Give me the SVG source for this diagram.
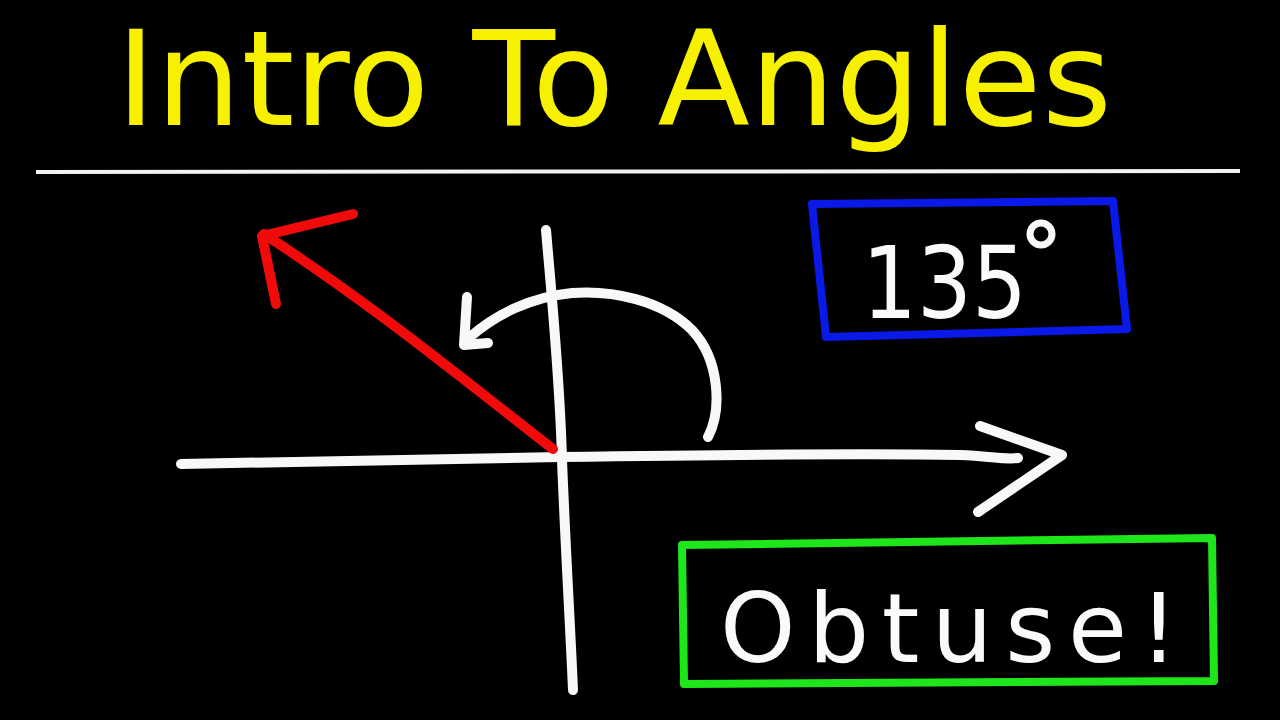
<svg xmlns="http://www.w3.org/2000/svg" width="1280" height="720" viewBox="0 0 1280 720">
<style>
.bg{fill:#000}
.title{fill:#f7f000;font-family:"Comic Sans MS","DejaVu Sans",sans-serif;font-size:132px}
.hand{fill:#fafafa;font-family:"Comic Sans MS","DejaVu Sans",sans-serif}
.w{fill:none;stroke:#f8f8f8;stroke-width:10;stroke-linecap:round;stroke-linejoin:round}
.r{fill:none;stroke:#f00a0a;stroke-width:10;stroke-linecap:round;stroke-linejoin:round}
.blue{fill:none;stroke:#0a18e8;stroke-width:8;stroke-linejoin:round;stroke-linecap:round}
.green{fill:none;stroke:#1ee61a;stroke-width:8;stroke-linejoin:round;stroke-linecap:round}
</style>
<rect class="bg" x="0" y="0" width="1280" height="720"/>
<g id="title">
<text class="title" x="116" y="125" textLength="996" lengthAdjust="spacingAndGlyphs">Intro To Angles</text>
<line x1="36" y1="172" x2="1240" y2="171" stroke="#f2f2f2" stroke-width="4"/>
</g>
<g id="axes">
<path class="w" d="M181,464 C300,462 420,460 560,457 C700,455 850,453 960,455 C990,456 1005,460 1018,458"/>
<path class="w" d="M980,426 L1062,455 L978,512"/>
<path class="w" d="M546,230 C552,300 560,380 562,460 C566,560 570,620 573,690"/>
</g>
<g id="ray">
<path class="r" d="M553,449 C470,385 380,310 264,234"/>
<path class="r" d="M353,214 L262,236 L276,304"/>
</g>
<g id="arc">
<path class="w" d="M708,437 C722,410 720,360 692,330 C662,300 612,290 572,293 C530,297 495,315 470,337"/>
<path class="w" d="M467,297 L464,345 L488,343"/>
</g>
<g id="angle-box">
<path class="blue" d="M812,204 L1113,201 L1127,329 L826,337 Z"/>
<text class="hand" x="862" y="318" font-size="100" textLength="165" lengthAdjust="spacingAndGlyphs">135</text>
<circle cx="1041" cy="234" r="11" fill="none" stroke="#fafafa" stroke-width="7"/>
</g>
<g id="type-box">
<path class="green" d="M682,545 L1212,538 L1214,681 L684,684 Z"/>
<text class="hand" x="720" y="662" font-size="96" textLength="458" lengthAdjust="spacing">Obtuse!</text>
</g>
</svg>
